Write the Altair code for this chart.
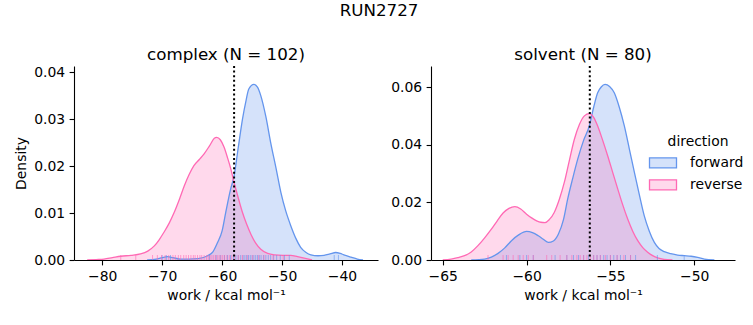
import altair as alt
import pandas as pd

FONT = "DejaVu Sans"
DIRS = ["forward", "reverse"]
LINE_COLORS = ["#6495ED", "#FF69B4"]
FILL_COLORS = ["rgba(100,149,237,0.27)", "rgba(255,105,180,0.25)"]

# ---- complex panel: KDE curves ----
complex_fwd_x = [-72.5, -71.0, -70.0, -69.1, -68.2, -67.0, -65.5, -64.0, -62.4, -61.5, -60.8, -60.0,
                 -59.4, -58.6, -58.0, -57.3, -56.6, -56.0, -55.55, -54.7, -54.1, -53.55, -52.7, -51.9,
                 -51.0, -50.2, -49.4, -48.55, -47.7, -46.9, -46.0, -45.2, -44.0, -43.0, -42.0, -41.05,
                 -40.3, -39.7, -38.5, -37.45, -36.5]
complex_fwd_y = [0.0, 0.0002, 0.0005, 0.0007, 0.0005, 0.0002, 0.0002, 0.0003, 0.0009, 0.0018, 0.0036, 0.0062,
                 0.0101, 0.0150, 0.0179, 0.0240, 0.0300, 0.0340, 0.0364, 0.0374, 0.0368, 0.0350, 0.0305, 0.0250,
                 0.0195, 0.0144, 0.0105, 0.0073, 0.0046, 0.0027, 0.0016, 0.0011, 0.0009, 0.0010, 0.0013, 0.0016,
                 0.0014, 0.0011, 0.0006, 0.0002, 0.0]
complex_rev_x = [-82.5, -81.0, -79.7, -78.3, -76.9, -75.2, -73.6, -72.4, -71.3, -70.5, -69.7, -68.8,
                 -68.0, -67.1, -66.3, -65.5, -64.7, -63.8, -63.0, -62.1, -61.3, -60.9, -60.3, -59.7,
                 -59.1, -58.55, -58.0, -57.3, -56.6, -55.9, -55.2, -54.4, -53.55, -52.4, -51.3, -49.9,
                 -48.55, -47.4, -46.3, -45.0]
complex_rev_y = [0.0, 0.0001, 0.0002, 0.0005, 0.0008, 0.0010, 0.0013, 0.0019, 0.0030, 0.0043, 0.0059, 0.0079,
                 0.0101, 0.0130, 0.0158, 0.0182, 0.0201, 0.0214, 0.0226, 0.0243, 0.0259, 0.0261, 0.0256, 0.0241,
                 0.0218, 0.0194, 0.0165, 0.0132, 0.0101, 0.0076, 0.0055, 0.0036, 0.0023, 0.0014, 0.0011, 0.0010,
                 0.0010, 0.0007, 0.0004, 0.0]

# ---- solvent panel ----
solvent_fwd_x = [-63.3, -62.5, -62.1, -61.7, -61.3, -60.9, -60.45, -60.0, -59.65, -59.3, -59.0, -58.7,
                 -58.4, -58.1, -57.8, -57.55, -57.25, -56.95, -56.6, -56.26, -56.0, -55.76, -55.55, -55.32,
                 -55.05, -54.77, -54.47, -54.17, -53.87, -53.57, -53.27, -52.98, -52.68, -52.38, -52.1,
                 -51.79, -51.4, -50.99, -50.6, -50.19, -49.8, -49.4, -48.8]
solvent_fwd_y = [0.0, 0.0003, 0.0010, 0.0023, 0.0042, 0.0067, 0.0088, 0.0099, 0.0095, 0.0084, 0.0072, 0.0061,
                 0.0066, 0.0090, 0.0140, 0.0211, 0.0283, 0.0350, 0.0415, 0.0465, 0.0530, 0.0580, 0.0600, 0.0609,
                 0.0602, 0.0580, 0.0530, 0.0465, 0.0385, 0.0304, 0.0225, 0.0153, 0.0100, 0.0061, 0.0040,
                 0.0029, 0.0022, 0.0017, 0.0015, 0.0013, 0.0009, 0.0003, 0.0]
solvent_rev_x = [-65.0, -64.5, -64.1, -63.7, -63.3, -62.9, -62.5, -62.1, -61.75, -61.4, -61.05, -60.7,
                 -60.35, -60.0, -59.7, -59.4, -59.15, -58.9, -58.65, -58.35, -58.05, -57.75, -57.45, -57.15,
                 -56.85, -56.55, -56.26, -56.0, -55.76, -55.46, -55.16, -54.86, -54.56, -54.27, -53.97,
                 -53.67, -53.37, -53.07, -52.78, -52.48, -52.18, -51.8, -51.3]
solvent_rev_y = [0.0, 0.0003, 0.0008, 0.0015, 0.0028, 0.0050, 0.0077, 0.0107, 0.0136, 0.0163, 0.0179, 0.0185,
                 0.0177, 0.0159, 0.0146, 0.0136, 0.0131, 0.0130, 0.0140, 0.0165, 0.0210, 0.0269, 0.0345, 0.0419,
                 0.0470, 0.0500, 0.0508, 0.0495, 0.0465, 0.0415, 0.0361, 0.0303, 0.0246, 0.0192, 0.0142,
                 0.0100, 0.0067, 0.0043, 0.0027, 0.0015, 0.0007, 0.0002, 0.0]

# ---- rug samples (approximate positions of individual work values) ----
complex_rev_rug = [-76.9, -74.4, -71.6, -70.8, -70.1, -69.5, -68.9, -68.2, -67.8, -67.3, -66.9, -66.4,
                   -66.0, -65.6, -65.2, -64.8, -64.5, -64.1, -63.7, -63.4, -63.0, -62.6, -62.3, -62.0,
                   -61.7, -61.4, -61.1, -60.8, -60.5, -60.2, -59.9, -59.6, -59.2, -58.8, -58.4, -57.9,
                   -57.3, -56.6, -55.8, -54.9, -53.9, -53.0, -51.5, -49.8]
complex_fwd_rug = [-70.0, -69.3, -68.6, -62.1, -61.0, -60.3, -59.6, -59.1, -58.6, -58.1, -57.7, -57.3,
                   -56.9, -56.5, -56.2, -55.9, -55.6, -55.3, -55.0, -54.7, -54.4, -54.1, -53.8, -53.5,
                   -53.1, -52.7, -52.3, -51.9, -51.4, -50.9, -50.3, -49.6, -48.8, -41.3, -40.6]
solvent_rev_rug = [-62.3, -61.4, -61.1, -60.8, -60.5, -60.2, -59.9, -59.6, -58.8, -58.5, -58.0, -57.6,
                   -57.3, -57.0, -56.8, -56.6, -56.4, -56.2, -56.0, -55.8, -55.6, -55.3, -55.0, -54.6,
                   -54.2, -53.8]
solvent_fwd_rug = [-61.2, -60.4, -60.0, -59.6, -58.3, -57.6, -57.2, -56.9, -56.6, -56.3, -56.0, -55.8,
                   -55.6, -55.4, -55.2, -55.0, -54.8, -54.6, -54.4, -54.1, -53.8, -53.5, -52.2, -50.6]

# ---- dotted reference lines ----
complex_vline = [-58.0]
solvent_vline = [-56.23]

complex_xticks = [-80, -70, -60, -50, -40]
complex_yticks = [0.0, 0.01, 0.02, 0.03, 0.04]
solvent_xticks = [-65, -60, -55, -50]
solvent_yticks = [0.0, 0.02, 0.04, 0.06]

W, H = 304, 194


def curves_df(fx, fy, rx, ry):
    rows = [{"work": a, "density": b, "direction": "forward"} for a, b in zip(fx, fy)]
    rows += [{"work": a, "density": b, "direction": "reverse"} for a, b in zip(rx, ry)]
    return pd.DataFrame(rows)


def rug_df(f, r):
    rows = [{"work": a, "direction": "forward"} for a in f]
    rows += [{"work": a, "direction": "reverse"} for a in r]
    return pd.DataFrame(rows)


def panel(title, cdf, rdf, vline, xdom, ydom, xticks, yticks, ytitle, legend):
    xenc = alt.X("work:Q", scale=alt.Scale(domain=xdom, nice=False, zero=False),
                 axis=alt.Axis(values=xticks, format="d", title="work / kcal mol⁻¹"))
    yenc = alt.Y("density:Q", stack=None, scale=alt.Scale(domain=ydom, nice=False, zero=False),
                 axis=alt.Axis(values=yticks, format=".2f", title=ytitle) if ytitle else
                 alt.Axis(values=yticks, format=".2f", title=None))
    fill = alt.Fill("direction:N", scale=alt.Scale(domain=DIRS, range=FILL_COLORS), legend=legend)
    stroke = alt.Stroke("direction:N", scale=alt.Scale(domain=DIRS, range=LINE_COLORS), legend=legend)
    base = alt.Chart(cdf)
    area = base.mark_area(interpolate="monotone", clip=True).encode(x=xenc, y=yenc, fill=fill)
    line = base.mark_line(interpolate="monotone", strokeWidth=1.3, clip=True).encode(
        x=xenc, y=yenc, stroke=stroke)
    rug = alt.Chart(rdf).mark_rule(strokeWidth=1, opacity=0.6).encode(
        x=alt.X("work:Q"),
        y=alt.value(H - 5), y2=alt.value(H),
        color=alt.Color("direction:N", scale=alt.Scale(domain=DIRS, range=LINE_COLORS), legend=None),
    )
    vl = alt.Chart(pd.DataFrame({"work": vline})).mark_rule(
        color="black", strokeWidth=2, strokeDash=[2, 2.6]).encode(x=alt.X("work:Q"))
    return alt.layer(area, line, rug, vl).properties(
        width=W, height=H,
        title=alt.Title(title, fontSize=16.7, font=FONT, fontWeight="normal", color="black", offset=1),
    )


legend = alt.Legend(
    title="direction", orient="none", legendX=221, legendY=69,
    symbolType="M-1.35,-0.5H1.35V0.5H-1.35Z", symbolSize=400, symbolStrokeWidth=1.3,
    labelFont=FONT, titleFont=FONT, labelFontSize=13.9, titleFontSize=13.9,
    titleFontWeight="normal", titleAnchor="middle", labelColor="black", titleColor="black",
    labelOffset=16, rowPadding=3, titlePadding=3, padding=0,
)

left = panel("complex (N = 102)",
             curves_df(complex_fwd_x, complex_fwd_y, complex_rev_x, complex_rev_y),
             rug_df(complex_fwd_rug, complex_rev_rug), complex_vline,
             [-84.7, -34.0], [0, 0.0413], complex_xticks, complex_yticks, "Density", None)
right = panel("solvent (N = 80)",
              curves_df(solvent_fwd_x, solvent_fwd_y, solvent_rev_x, solvent_rev_y),
              rug_df(solvent_fwd_rug, solvent_rev_rug), solvent_vline,
              [-65.7, -47.57], [0, 0.0673], solvent_xticks, solvent_yticks, None, legend)

chart = alt.hconcat(left, right, spacing=12).resolve_scale(
    x="independent", y="independent", fill="independent", stroke="independent", color="independent"
).resolve_legend(
    fill="independent", stroke="independent", color="independent"
).properties(
    title=alt.Title("RUN2727", fontSize=16.7, font=FONT, fontWeight="normal", color="black",
                    anchor="middle", offset=28),
    padding={"left": 14, "top": 2, "right": 5, "bottom": 5},
).configure_view(stroke=None).configure_axis(
    grid=False, labelFont=FONT, titleFont=FONT, labelFontSize=13.9, titleFontSize=13.9,
    titleFontWeight="normal", labelColor="black", titleColor="black",
    domainColor="black", tickColor="black", domainWidth=1.1, tickWidth=1.1, tickSize=4.9,
    labelPadding=4.4, titlePadding=5.6, zindex=1,
)

chart.save("out.html", embed_options={"renderer": "svg", "actions": False})
